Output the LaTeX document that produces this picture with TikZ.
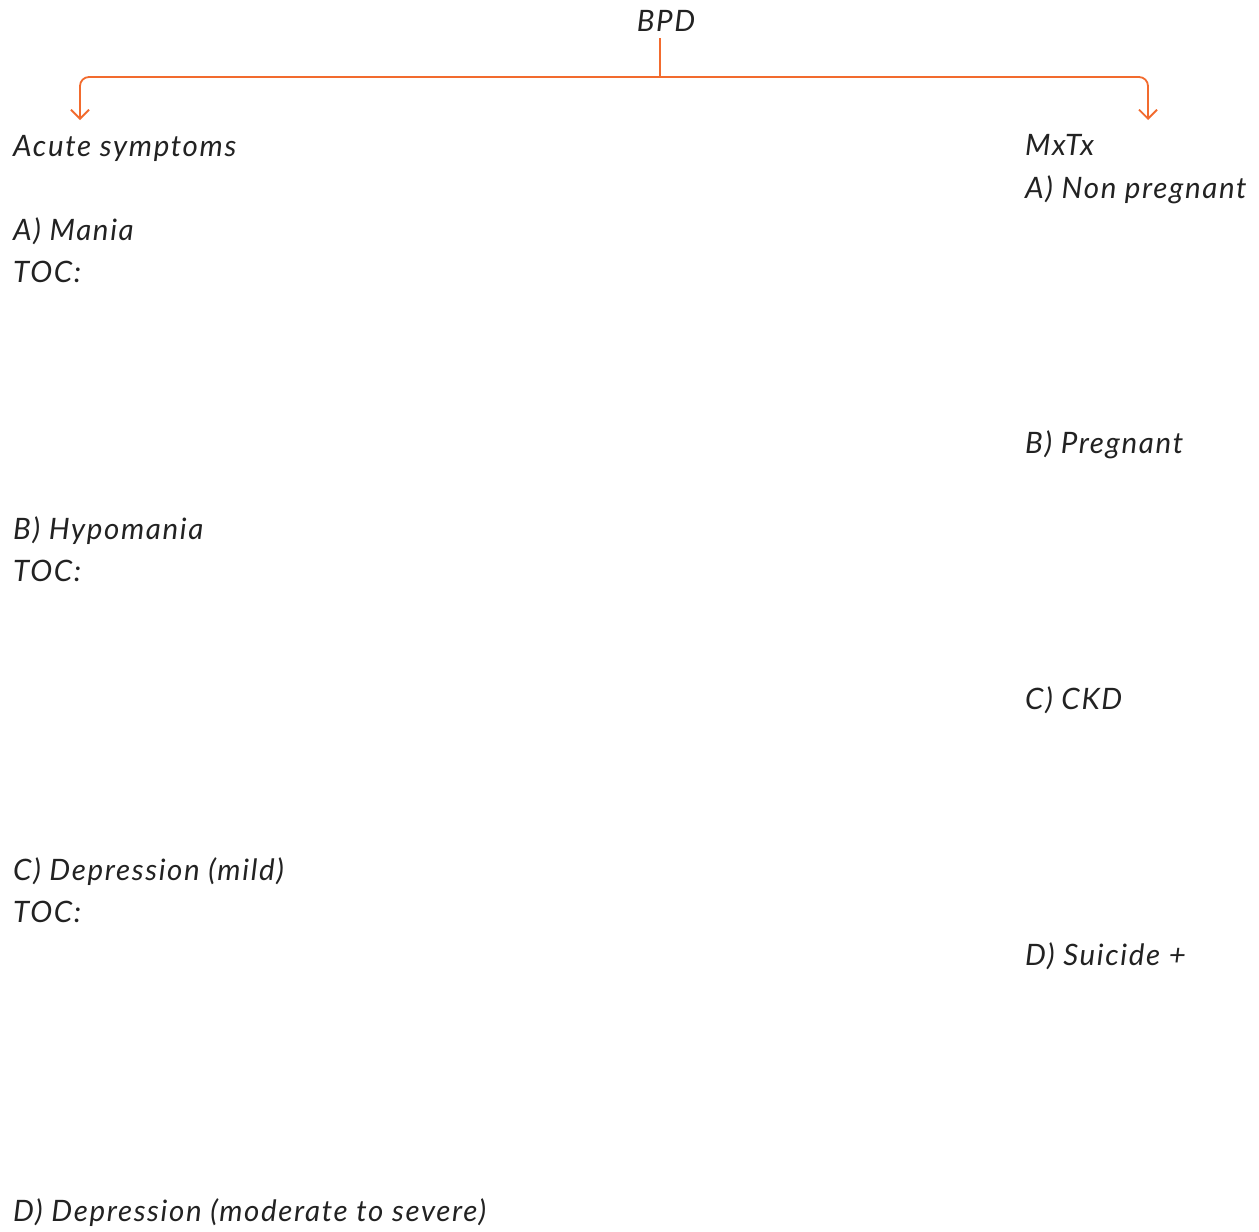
\documentclass[tikz,border=0pt]{standalone}
\usepackage{fontspec}
\setmainfont{Lato}[LetterSpace=5.6]
\usetikzlibrary{arrows.meta}
\definecolor{conncol}{HTML}{F26B2E}
\definecolor{txtcol}{HTML}{222222}
\tikzset{
  lbl/.style={anchor=base west, inner sep=0pt, text=txtcol, font=\fontsize{29.5}{32}\selectfont\itshape},
  conn/.style={draw=conncol, line width=1.8pt, rounded corners=9pt},
  arr/.style={conn, -{Straight Barb[length=9pt,width=18pt,line width=1.8pt]}}
}
\begin{document}
\begin{tikzpicture}[x=1pt,y=-1pt]
\useasboundingbox (0,0) rectangle (1259,1232);
\node[lbl, anchor=base] (bpd) at (666,31) {BPD};
\node[lbl] (acute) at (13,156) {Acute symptoms};
\node[lbl] (ma) at (13,240) {A) Mania};
\node[lbl] (toc1) at (13,282) {TOC:};
\node[lbl] (hypo) at (13,539) {B) Hypomania};
\node[lbl] (toc2) at (13,581) {TOC:};
\node[lbl] (dmild) at (13,880) {C) Depression (mild)};
\node[lbl] (toc3) at (13,922) {TOC:};
\node[lbl] (dsev) at (13,1221) {D) Depression (moderate to severe)};
\node[lbl] (mxtx) at (1025,155) {MxTx};
\node[lbl] (np) at (1025,198) {A) Non pregnant};
\node[lbl] (preg) at (1025,453) {B) Pregnant};
\node[lbl] (ckd) at (1025,709) {C) CKD};
\node[lbl] (sui) at (1025,965) {D) Suicide +};
\coordinate (stem) at (660,38);
\coordinate (junc) at (660,77);
\coordinate (ltip) at (80,120);
\coordinate (rtip) at (1148,120);
\draw[conn] (stem) -- (junc);
\draw[arr] (junc) -| (ltip);
\draw[arr] (junc) -| (rtip);
\end{tikzpicture}
\end{document}
